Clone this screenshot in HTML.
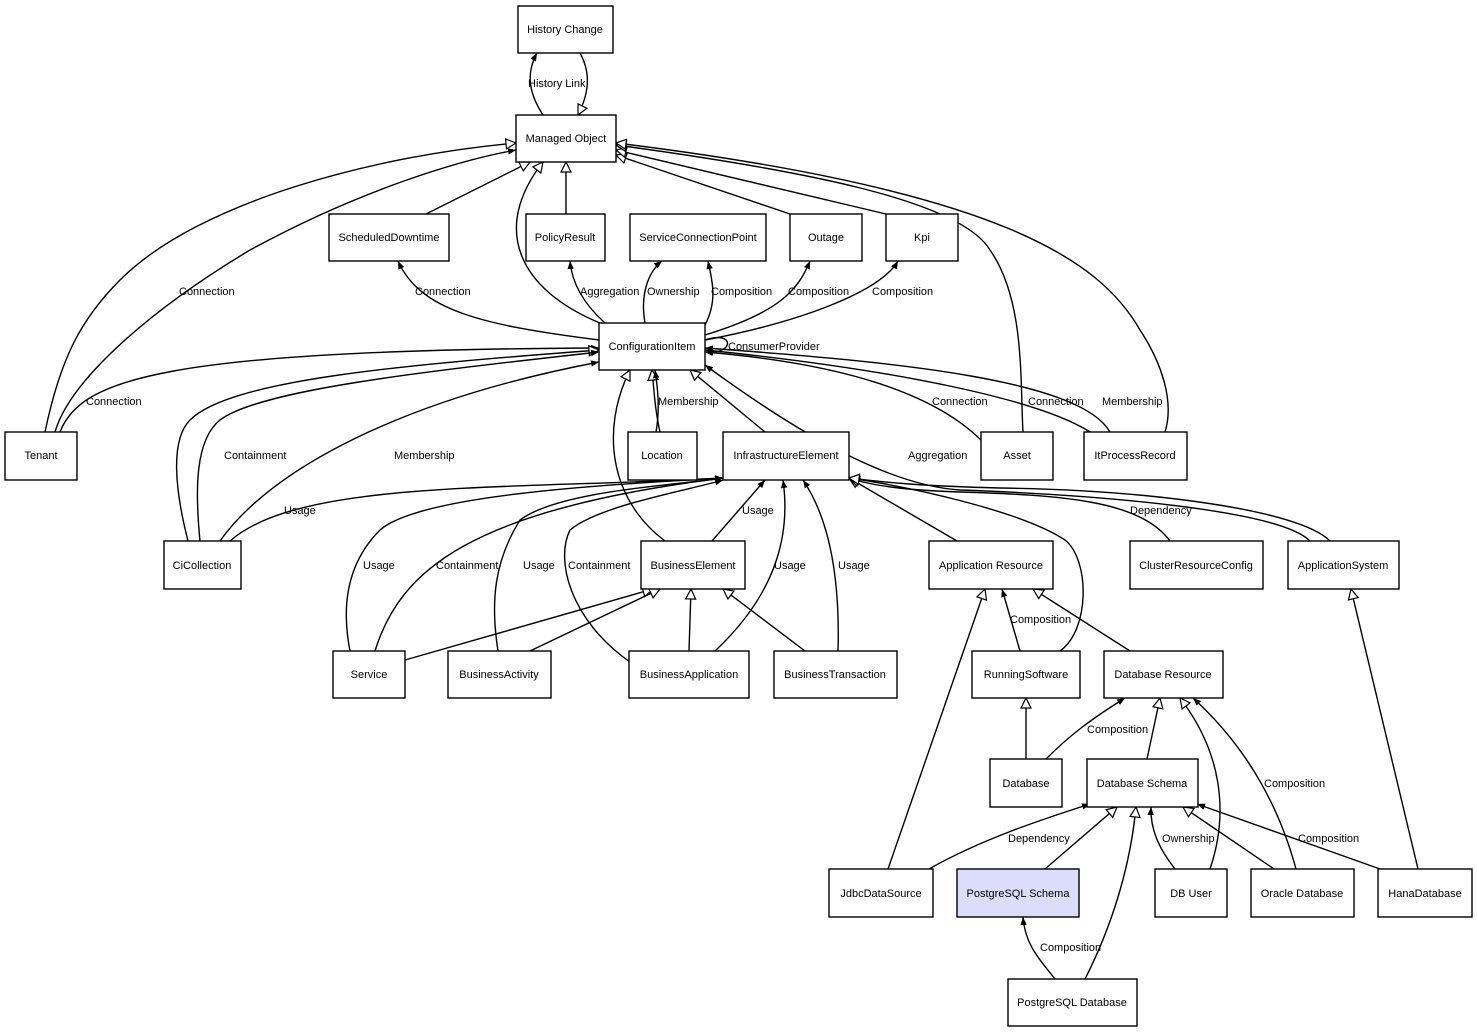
<!DOCTYPE html>
<html><head><meta charset="utf-8"><style>
html,body{margin:0;padding:0;background:#fff;width:1477px;height:1033px;overflow:hidden}
svg text{font-family:"Liberation Sans",Arial,sans-serif;font-size:11px;fill:#000}
</style></head><body>
<svg width="1477" height="1033" viewBox="0 0 1477 1033" xmlns="http://www.w3.org/2000/svg">
<defs>
<marker id="f" viewBox="0 0 10 10" refX="10" refY="5" markerWidth="8" markerHeight="8" markerUnits="userSpaceOnUse" orient="auto"><path d="M0,1 L10,5 L0,9 z" fill="#000"/></marker>
<marker id="h" viewBox="0 0 12 12" refX="11" refY="6" markerWidth="12" markerHeight="12" markerUnits="userSpaceOnUse" orient="auto"><path d="M1,1 L11,6 L1,11 z" fill="#fff" stroke="#000" stroke-width="1.2"/></marker>
</defs>
<g fill="none" stroke="#000" stroke-width="1.4">
<!-- top -->
<path d="M543,115 C530,95 525,75 537,53" marker-end="url(#f)"/>
<path d="M580,53 C592,75 588,95 578,115" marker-end="url(#h)"/>
<path d="M426,214 L530,162" marker-end="url(#h)"/>
<path d="M566,214 L566,162" marker-end="url(#h)"/>
<path d="M600,323 C520,290 490,230 543,162" marker-end="url(#h)"/>
<path d="M790,214 L616,155" marker-end="url(#h)"/>
<path d="M886,214 L616,150" marker-end="url(#h)"/>
<path d="M1023,432 C1020,380 1025,300 990,250 C960,200 800,170 616,145" marker-end="url(#h)"/>
<path d="M1165,432 C1175,400 1160,360 1140,330 C1100,260 1000,190 616,143" marker-end="url(#h)"/>
<path d="M45,432 C60,360 80,320 120,280 C200,200 380,155 516,143" marker-end="url(#h)"/>
<path d="M55,432 C70,380 150,310 250,250 C360,190 460,160 516,150" marker-end="url(#f)"/>
<!-- CI to second row -->
<path d="M599,340 C480,325 420,310 398,261" marker-end="url(#f)"/>
<path d="M605,323 C585,305 572,285 570,261" marker-end="url(#f)"/>
<path d="M645,323 C640,295 648,272 662,261" marker-end="url(#f)"/>
<path d="M705,325 C718,300 712,280 708,261" marker-end="url(#f)"/>
<path d="M705,335 C780,312 798,290 810,261" marker-end="url(#f)"/>
<path d="M705,340 C800,322 880,292 898,261" marker-end="url(#f)"/>
<path d="M705,340 C735,330 735,355 705,352" marker-end="url(#f)"/>
<!-- to CI -->
<path d="M60,432 C80,380 160,350 599,348" marker-end="url(#f)"/>
<path d="M188,541 C175,490 170,440 190,420 C230,380 400,365 599,350" marker-end="url(#h)"/>
<path d="M200,541 C195,490 195,440 220,420 C260,390 420,372 599,352" marker-end="url(#f)"/>
<path d="M220,541 C270,470 400,400 599,362" marker-end="url(#f)"/>
<path d="M660,432 C655,410 654,390 652,370" marker-end="url(#h)"/>
<path d="M656,432 C660,410 658,390 655,370" marker-end="url(#f)"/>
<path d="M765,432 L690,370" marker-end="url(#h)"/>
<path d="M665,541 C610,500 600,430 630,370" marker-end="url(#h)"/>
<path d="M981,440 C920,380 800,360 705,352" marker-end="url(#f)"/>
<path d="M1090,432 C1040,400 900,370 705,350" marker-end="url(#f)"/>
<path d="M1110,432 C1080,380 900,362 705,348" marker-end="url(#f)"/>
<path d="M1310,541 C1280,510 1100,495 960,490 C880,485 780,420 705,365" marker-end="url(#f)"/>
<!-- to InfraElement -->
<path d="M230,541 C300,480 500,490 723,478" marker-end="url(#f)"/>
<path d="M350,651 C340,600 350,560 380,530 C420,495 600,485 723,478" marker-end="url(#f)"/>
<path d="M375,651 C400,570 470,510 723,478" marker-end="url(#f)"/>
<path d="M498,651 C490,600 495,560 520,520 C560,490 680,485 723,478" marker-end="url(#f)"/>
<path d="M630,662 C570,620 555,560 570,530 C600,505 690,490 723,480" marker-end="url(#f)"/>
<path d="M712,541 L765,480" marker-end="url(#f)"/>
<path d="M715,651 C780,590 790,530 783,480" marker-end="url(#f)"/>
<path d="M838,651 C840,580 830,520 803,480" marker-end="url(#f)"/>
<path d="M957,541 L849,478" marker-end="url(#h)"/>
<path d="M1060,651 C1090,630 1090,560 1065,540 C1020,510 900,485 849,478" marker-end="url(#h)"/>
<path d="M1170,541 C1140,500 1060,495 960,492 C900,490 870,485 849,478" marker-end="url(#h)"/>
<path d="M1330,541 C1300,510 1150,490 1000,488 C920,486 880,482 849,478" marker-end="url(#h)"/>
<!-- to BusinessElement -->
<path d="M405,660 L653,589" marker-end="url(#h)"/>
<path d="M530,651 L660,589" marker-end="url(#h)"/>
<path d="M689,651 L691,589" marker-end="url(#h)"/>
<path d="M805,651 L723,589" marker-end="url(#h)"/>
<!-- lower right -->
<path d="M1020,651 L1002,589" marker-end="url(#f)"/>
<path d="M1130,651 L1033,589" marker-end="url(#h)"/>
<path d="M888,869 L985,589" marker-end="url(#h)"/>
<path d="M1026,759 L1026,698" marker-end="url(#h)"/>
<path d="M1046,759 C1070,735 1090,720 1125,698" marker-end="url(#f)"/>
<path d="M1147,759 L1160,698" marker-end="url(#h)"/>
<path d="M1210,869 C1230,810 1220,750 1180,698" marker-end="url(#h)"/>
<path d="M1296,869 C1280,810 1250,750 1193,698" marker-end="url(#f)"/>
<path d="M929,869 C980,840 1040,820 1090,804" marker-end="url(#f)"/>
<path d="M1045,869 L1117,807" marker-end="url(#h)"/>
<path d="M1085,979 C1110,930 1130,870 1136,807" marker-end="url(#h)"/>
<path d="M1175,869 C1160,850 1150,830 1151,807" marker-end="url(#f)"/>
<path d="M1274,869 L1183,807" marker-end="url(#h)"/>
<path d="M1380,869 L1197,804" marker-end="url(#f)"/>
<path d="M1418,869 L1351,589" marker-end="url(#h)"/>
<path d="M1055,979 C1040,960 1025,945 1023,917" marker-end="url(#f)"/>
</g>
<g fill="#fff" stroke="#000" stroke-width="1.4">
<rect x="518" y="6" width="95" height="47"/>
<rect x="516" y="115" width="100" height="47"/>
<rect x="329" y="214" width="120" height="47"/>
<rect x="526" y="214" width="79" height="47"/>
<rect x="630" y="214" width="136" height="47"/>
<rect x="790" y="214" width="72" height="47"/>
<rect x="886" y="214" width="72" height="47"/>
<rect x="599" y="323" width="106" height="47"/>
<rect x="5" y="432" width="72" height="48"/>
<rect x="628" y="432" width="69" height="48"/>
<rect x="723" y="432" width="126" height="48"/>
<rect x="981" y="432" width="72" height="48"/>
<rect x="1084" y="432" width="103" height="48"/>
<rect x="164" y="541" width="77" height="48"/>
<rect x="641" y="541" width="104" height="48"/>
<rect x="929" y="541" width="124" height="48"/>
<rect x="1130" y="541" width="133" height="48"/>
<rect x="1288" y="541" width="111" height="48"/>
<rect x="333" y="651" width="72" height="47"/>
<rect x="448" y="651" width="103" height="47"/>
<rect x="629" y="651" width="120" height="47"/>
<rect x="774" y="651" width="123" height="47"/>
<rect x="972" y="651" width="108" height="47"/>
<rect x="1104" y="651" width="119" height="47"/>
<rect x="990" y="759" width="72" height="48"/>
<rect x="1087" y="759" width="111" height="48"/>
<rect x="829" y="869" width="104" height="48"/>
<rect x="957" y="869" width="122" height="48" fill="#dcdcfc"/>
<rect x="1155" y="869" width="72" height="48"/>
<rect x="1251" y="869" width="103" height="48"/>
<rect x="1378" y="869" width="94" height="48"/>
<rect x="1008" y="979" width="129" height="47"/>
</g>
<g text-anchor="middle">
<text x="565" y="33">History Change</text>
<text x="566" y="142">Managed Object</text>
<text x="389" y="241">ScheduledDowntime</text>
<text x="565" y="241">PolicyResult</text>
<text x="698" y="241">ServiceConnectionPoint</text>
<text x="826" y="241">Outage</text>
<text x="922" y="241">Kpi</text>
<text x="652" y="350">ConfigurationItem</text>
<text x="41" y="459">Tenant</text>
<text x="662" y="459">Location</text>
<text x="786" y="459">InfrastructureElement</text>
<text x="1017" y="459">Asset</text>
<text x="1135" y="459">ItProcessRecord</text>
<text x="202" y="569">CiCollection</text>
<text x="693" y="569">BusinessElement</text>
<text x="991" y="569">Application Resource</text>
<text x="1196" y="569">ClusterResourceConfig</text>
<text x="1343" y="569">ApplicationSystem</text>
<text x="369" y="678">Service</text>
<text x="499" y="678">BusinessActivity</text>
<text x="689" y="678">BusinessApplication</text>
<text x="835" y="678">BusinessTransaction</text>
<text x="1026" y="678">RunningSoftware</text>
<text x="1163" y="678">Database Resource</text>
<text x="1026" y="787">Database</text>
<text x="1142" y="787">Database Schema</text>
<text x="881" y="897">JdbcDataSource</text>
<text x="1018" y="897">PostgreSQL Schema</text>
<text x="1191" y="897">DB User</text>
<text x="1302" y="897">Oracle Database</text>
<text x="1425" y="897">HanaDatabase</text>
<text x="1072" y="1006">PostgreSQL Database</text>
</g>
<g>
<text x="528" y="87">History Link</text>
<text x="179" y="295">Connection</text>
<text x="415" y="295">Connection</text>
<text x="580" y="295">Aggregation</text>
<text x="647" y="295">Ownership</text>
<text x="711" y="295">Composition</text>
<text x="788" y="295">Composition</text>
<text x="872" y="295">Composition</text>
<text x="728" y="350">ConsumerProvider</text>
<text x="86" y="405">Connection</text>
<text x="658" y="405">Membership</text>
<text x="932" y="405">Connection</text>
<text x="1028" y="405">Connection</text>
<text x="1102" y="405">Membership</text>
<text x="224" y="459">Containment</text>
<text x="394" y="459">Membership</text>
<text x="908" y="459">Aggregation</text>
<text x="284" y="514">Usage</text>
<text x="742" y="514">Usage</text>
<text x="1130" y="514">Dependency</text>
<text x="363" y="569">Usage</text>
<text x="436" y="569">Containment</text>
<text x="523" y="569">Usage</text>
<text x="568" y="569">Containment</text>
<text x="774" y="569">Usage</text>
<text x="838" y="569">Usage</text>
<text x="1010" y="623">Composition</text>
<text x="1087" y="733">Composition</text>
<text x="1264" y="787">Composition</text>
<text x="1008" y="842">Dependency</text>
<text x="1162" y="842">Ownership</text>
<text x="1298" y="842">Composition</text>
<text x="1040" y="951">Composition</text>
</g>
</svg>
</body></html>
